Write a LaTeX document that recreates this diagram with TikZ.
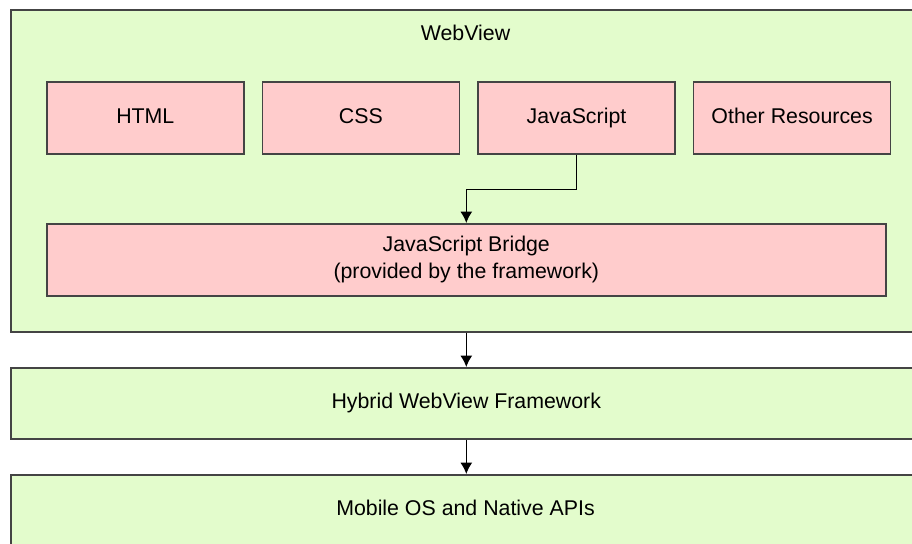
\documentclass[tikz,border=0pt]{standalone}
\usepackage{fontspec}
\setmainfont{Liberation Sans}
\usetikzlibrary{positioning,arrows.meta}
\definecolor{layergreen}{HTML}{E3FCCC}
\definecolor{partpink}{HTML}{FFCCCC}
\definecolor{edgegray}{HTML}{444444}
\tikzset{
    layer/.style={draw=edgegray, fill=layergreen, line width=1.2pt, anchor=north west,
        minimum width=683.25pt, font=\fontsize{16}{20}\selectfont, inner sep=0pt},
    part/.style={draw=edgegray, fill=partpink, line width=1.2pt,
        minimum width=147.75pt, minimum height=54pt, font=\fontsize{16}{20}\selectfont,
        inner sep=0pt, align=center},
    oneline/.style={text height=11.5pt, text depth=3.5pt},
    flow/.style={-{Latex[length=8.5pt, width=9pt]}, line width=1.1pt, black}
}
\begin{document}
\begin{tikzpicture}[x=0.75pt, y=-0.75pt]
            \clip (0,0) rectangle (912,543);
            \fill[white] (0,0) rectangle (912,543);

            \node[layer, minimum height=241.5pt] (webview) at (10,9) {};
            \node (webviewlabel) at (465.5,33) [font=\fontsize{16}{20}\selectfont] {WebView};
            \node[part, oneline, anchor=north west] (html) at (46,81) {HTML};
            \node[part, oneline, right=12.75pt of html] (css) {CSS};
            \node[part, oneline, right=12.75pt of css] (js) {JavaScript};
            \node[part, oneline, right=12.75pt of js] (other) {Other Resources};
            \node[part, anchor=north west, minimum width=629.25pt] (bridge) at (46,223)
                {JavaScript Bridge\\(provided by the framework)};
            \draw[flow] (js.south) -- ++(0,35) -| (bridge.north);

            \node[layer, minimum height=53.25pt] (hybrid) at (10,367) {};
            \node (hybridlabel) at (hybrid.center) [font=\fontsize{16}{20}\selectfont] {Hybrid WebView Framework};
            \node[layer, minimum height=54pt] (mobile) at (10,474) {};
            \node (mobilelabel) at (465.5,508) [font=\fontsize{16}{20}\selectfont] {Mobile OS and Native APIs};

            \draw[flow] (webview.south) -- (hybrid.north);
            \draw[flow] (hybrid.south) -- (mobile.north);
        \end{tikzpicture}
\end{document}
